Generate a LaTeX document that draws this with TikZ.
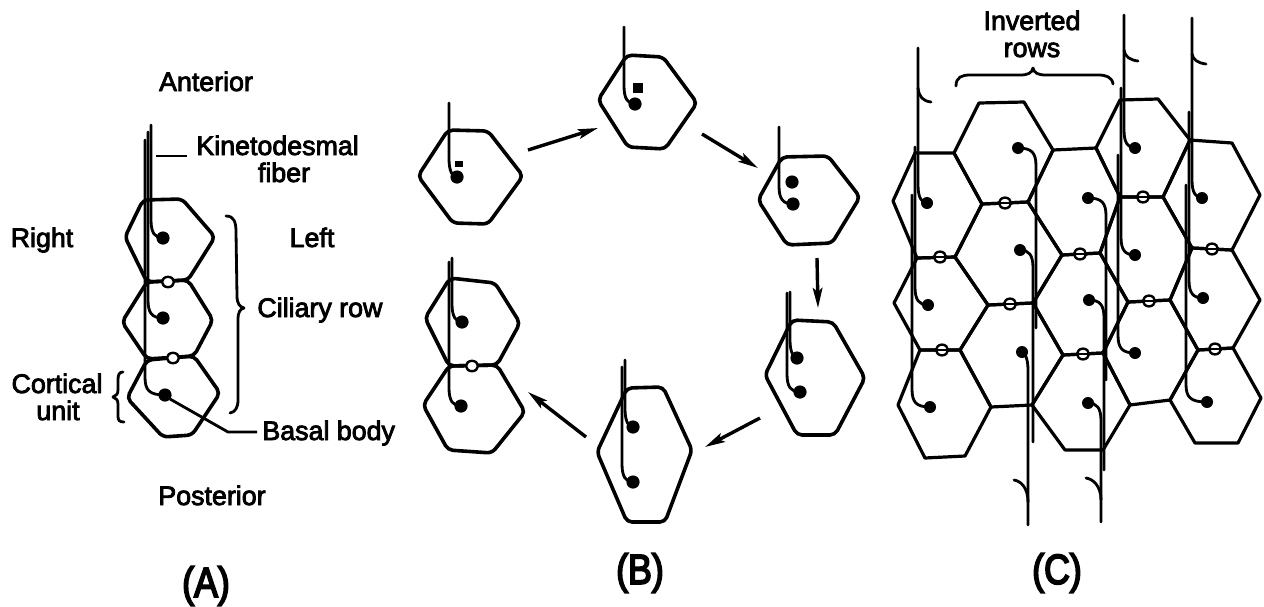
\documentclass[tikz,border=0pt]{standalone}
\usepackage{fontspec}
\setmainfont{Liberation Sans}
\newfontfamily\lblfont{Liberation Sans}[FakeBold=3]
\newfontfamily\panelfont{Liberation Sans}[FakeBold=4.5]
\usetikzlibrary{arrows.meta}
% fiber that rises from a basal body: #1,#2 body, #3 fiber x, #4 top end
\newcommand{\fibup}[4]{\draw[fib] (#1,#2) .. controls (#3+4,#2) and (#3,#2-5) .. (#3,#2-18) -- (#3,#4);}
% fiber that descends from a basal body: #1,#2 body, #3 fiber x, #4 bottom end
\newcommand{\fibdown}[4]{\draw[fib] (#1,#2) .. controls (#3-4,#2) and (#3,#2+5) .. (#3,#2+18) -- (#3,#4);}
\newcommand{\tallpanel}[1]{\scalebox{0.85}[1]{#1}}
\begin{document}
\begin{tikzpicture}[x=0.5pt,y=-0.5pt,
  cell/.style={line width=1.8pt, line join=round, rounded corners=2.5pt},
  gcell/.style={line width=1.6pt, line join=round},
  fib/.style={line width=1.4pt, line cap=round},
  lead/.style={line width=1.4pt},
  ring/.style={line width=1.2pt},
  lbl/.style={font=\lblfont\fontsize{13.4}{15}\selectfont, inner sep=0pt, anchor=base},
  panel/.style={font=\panelfont\fontsize{21}{24}\selectfont, inner sep=0pt},
  cyc/.style={line width=1.7pt, -{Stealth[length=10pt,width=4.8pt,inset=2pt]}},
  bracepath/.style={line width=1.4pt, line cap=round, line join=round},
]
\useasboundingbox (0,0) rectangle (1264,606);

% ---------------- (A) a ciliary row ----------------
\draw[cell] (143,200) -- (182,199) -- (215,237) -- (188,280) -- (147,282) -- (125,237) -- cycle;
\draw[cell] (147,282) -- (188,280) -- (213,320) -- (194,356) -- (147,359) -- (122,322) -- cycle;
\draw[cell] (147,360) -- (194,356) -- (220,393) -- (192,435) -- (163,437) -- (127,398) -- cycle;
\fibup{163}{238}{151}{125}
\fibup{163}{318}{148}{132}
\fibup{165}{395}{145}{140}
\foreach \x/\y in {163/238,163/318,165/395} \fill (\x,\y) circle (3.3pt);
\draw[ring, fill=white] (168,282) ellipse [x radius=3pt, y radius=2.6pt];
\draw[ring, fill=white] (173,358) ellipse [x radius=3pt, y radius=2.6pt];

\node[lbl] (ant) at (206,91) {Anterior};
\node[lbl, anchor=base west] (kin) at (196,155) {Kinetodesmal};
\node[lbl] (fbr) at (284,182) {fiber};
\node[lbl] (rgt) at (42,247) {Right};
\node[lbl] (lft) at (312,247) {Left};
\node[lbl, anchor=base west] (cil) at (257,317) {Ciliary row};
\node[lbl] (cort) at (57,393) {Cortical};
\node[lbl] (unit) at (58,420) {unit};
\node[lbl, anchor=base west] (bb) at (262,440) {Basal body};
\node[lbl] (post) at (212,505) {Posterior};
\node[panel] (pa) at (206,586) {\tallpanel{(A)}};

\coordinate (kinA) at (156,156);
\coordinate (kinB) at (187,156);
\draw[lead] (kinA) -- (kinB);
\coordinate (bbA) at (170,399);
\coordinate (bbB) at (228,432);
\coordinate (bbC) at (257,432);
\draw[lead] (bbA) -- (bbB) -- (bbC);

% brace for the ciliary row
\draw[bracepath] (226,216) .. controls (234,216) and (236,222) .. (236,232) -- (237,296)
  .. controls (237,304) and (240,307) .. (244,308) .. controls (240,309) and (238,312) .. (238,320)
  -- (238,400) .. controls (238,408) and (235,412) .. (230,413);
% brace for the cortical unit
\draw[bracepath] (123,372) .. controls (119,372) and (118,375) .. (118,380) -- (118,390)
  .. controls (118,394) and (116,396) .. (113,397) .. controls (116,398) and (118,400) .. (118,404)
  -- (118,416) .. controls (118,420) and (119,422) .. (124,422);

% ---------------- (B) division cycle ----------------
% B1
\draw[cell] (448,130) -- (488,131) -- (523,176) -- (488,224) -- (453,223) -- (418,176) -- cycle;
\fibup{457}{177}{449}{103}
\fill (457,177) circle (3.3pt);
\fill (455,161) rectangle (463,167);
% B2
\draw[cell] (627,55) -- (663,57) -- (697,103) -- (665,149) -- (628,147) -- (598,100) -- cycle;
\fibup{635}{104}{624}{27}
\fill (635,104) circle (3.3pt);
\fill (633,83) rectangle (643,93);
% B3
\draw[cell] (782,157) -- (828,156) -- (860,197) -- (832,243) -- (787,245) -- (758,200) -- cycle;
\fibup{793}{204}{779}{127}
\fill (793,204) circle (3.3pt);
\fill (792,182) circle (3.3pt);
% B4
\draw[cell] (792,320) -- (833,322) -- (865,378) -- (835,435) -- (797,435) -- (765,375) -- cycle;
\fibup{797}{358}{790}{292}
\fibup{800}{392}{787}{293}
\fill (797,358) circle (3.3pt);
\fill (800,392) circle (3.3pt);
% B5
\draw[cell] (627,388) -- (663,387) -- (692,450) -- (665,522) -- (627,522) -- (597,452) -- cycle;
\fibup{633}{427}{625}{360}
\fibup{633}{482}{622}{367}
\fill (633,427) circle (3.3pt);
\fill (633,482) circle (3.3pt);
% B6 (two daughter units)
\draw[cell] (450,278) -- (495,283) -- (520,323) -- (497,365) -- (449,366) -- (425,318) -- cycle;
\draw[cell] (449,366) -- (497,365) -- (525,412) -- (492,453) -- (448,450) -- (423,405) -- cycle;
\fibup{462}{322}{452}{258}
\fibup{461}{406}{449}{262}
\fill (462,322) circle (3.3pt);
\fill (461,406) circle (3.3pt);
\draw[ring, fill=white] (472,366) ellipse [x radius=3pt, y radius=2.6pt];

\coordinate (a1s) at (528,150); \coordinate (a1e) at (598,128);
\coordinate (a2s) at (702,134); \coordinate (a2e) at (758,168);
\coordinate (a3s) at (817,258); \coordinate (a3e) at (818,308);
\coordinate (a4s) at (760,418); \coordinate (a4e) at (705,447);
\coordinate (a5s) at (586,437); \coordinate (a5e) at (528,392);
\draw[cyc] (a1s) -- (a1e);
\draw[cyc] (a2s) -- (a2e);
\draw[cyc] (a3s) -- (a3e);
\draw[cyc] (a4s) -- (a4e);
\draw[cyc] (a5s) -- (a5e);
\node[panel] (pb) at (640,573) {\tallpanel{(B)}};

% ---------------- (C) cortex with inverted rows ----------------
\draw[gcell] (915,153) -- (954,153) -- (982,204) -- (955,257) -- (917,258) -- (893,201) -- cycle;
\draw[gcell] (917,258) -- (955,257) -- (988,305) -- (960,350) -- (920,350) -- (894,303) -- cycle;
\draw[gcell] (920,350) -- (960,350) -- (991,407) -- (965,456) -- (925,458) -- (898,405) -- cycle;
\draw[gcell] (979,103) -- (1024,102) -- (1053,150) -- (1028,202) -- (982,204) -- (954,153) -- cycle;
\draw[gcell] (982,204) -- (1028,202) -- (1062,255) -- (1033,303) -- (988,305) -- (955,257) -- cycle;
\draw[gcell] (988,305) -- (1033,303) -- (1063,355) -- (1032,405) -- (991,407) -- (960,350) -- cycle;
\draw[gcell] (1053,150) -- (1096,148) -- (1120,197) -- (1100,253) -- (1062,255) -- (1028,202) -- cycle;
\draw[gcell] (1062,255) -- (1100,253) -- (1128,302) -- (1103,353) -- (1063,355) -- (1033,303) -- cycle;
\draw[gcell] (1063,355) -- (1103,353) -- (1130,405) -- (1103,450) -- (1065,450) -- (1032,405) -- cycle;
\draw[gcell] (1120,100) -- (1158,99) -- (1190,140) -- (1163,197) -- (1120,197) -- (1096,148) -- cycle;
\draw[gcell] (1120,197) -- (1163,197) -- (1192,248) -- (1170,300) -- (1128,302) -- (1100,253) -- cycle;
\draw[gcell] (1128,302) -- (1170,300) -- (1198,350) -- (1170,400) -- (1130,405) -- (1103,353) -- cycle;
\draw[gcell] (1190,140) -- (1232,143) -- (1260,195) -- (1232,250) -- (1192,248) -- (1163,197) -- cycle;
\draw[gcell] (1192,248) -- (1232,250) -- (1260,300) -- (1233,348) -- (1198,350) -- (1170,300) -- cycle;
\draw[gcell] (1198,350) -- (1233,348) -- (1261,398) -- (1238,443) -- (1195,443) -- (1170,400) -- cycle;

\foreach \x/\y in {940/257,942/350,1005/203,1010/304,1080/254,1083/354,1143/197,1149/301,1212/249,1215/349}
{
  \draw[ring, fill=white] (\x,\y) ellipse [x radius=3pt, y radius=2.7pt];
  \draw[line width=1pt] (\x-6,\y) -- (\x+6,\y);
}

% normal rows: fibers run anteriorly
\fibup{927}{203}{918}{48}
\fibup{928}{305}{915}{147}
\fibup{930}{407}{912}{195}
\fibup{1135}{148}{1124}{15}
\fibup{1135}{255}{1121}{88}
\fibup{1135}{353}{1118}{155}
\fibup{1202}{198}{1192}{18}
\fibup{1203}{298}{1189}{112}
\fibup{1207}{402}{1186}{185}
% inverted rows: fibers run posteriorly
\fibdown{1018}{148}{1036}{328}
\fibdown{1020}{250}{1033}{442}
\fibdown{1022}{352}{1028}{525}
\fibdown{1088}{198}{1106}{380}
\fibdown{1089}{300}{1104}{470}
\fibdown{1088}{403}{1101}{522}
% hooked ends of the long fibers
\draw[fib] (918,88) .. controls (919,97) and (923,101) .. (931,102);
\draw[fib] (1124,50) .. controls (1125,57) and (1130,60) .. (1138,61);
\draw[fib] (1192,54) .. controls (1193,60) and (1198,63) .. (1206,64);
\draw[fib] (1014,480) .. controls (1021,481) and (1028,488) .. (1028,502);
\draw[fib] (1086,478) .. controls (1093,479) and (1101,486) .. (1101,500);

\foreach \x/\y in {927/203,928/305,930/407,1018/148,1020/250,1022/352,1088/198,1089/300,1088/403,1135/148,1135/255,1135/353,1202/198,1203/298,1207/402}
  \fill (\x,\y) circle (3pt);

\node[lbl] (inv) at (1032,30) {Inverted};
\node[lbl] (rows) at (1032,57) {rows};
\draw[bracepath] (956,86) .. controls (956,77) and (962,75) .. (970,75) -- (1020,75)
  .. controls (1028,75) and (1032,73) .. (1033,68) .. controls (1034,73) and (1038,75) .. (1046,75)
  -- (1098,75) .. controls (1106,75) and (1112,77) .. (1113,84);
\node[panel] (pc) at (1057,573) {\tallpanel{(C)}};
\end{tikzpicture}
\end{document}
